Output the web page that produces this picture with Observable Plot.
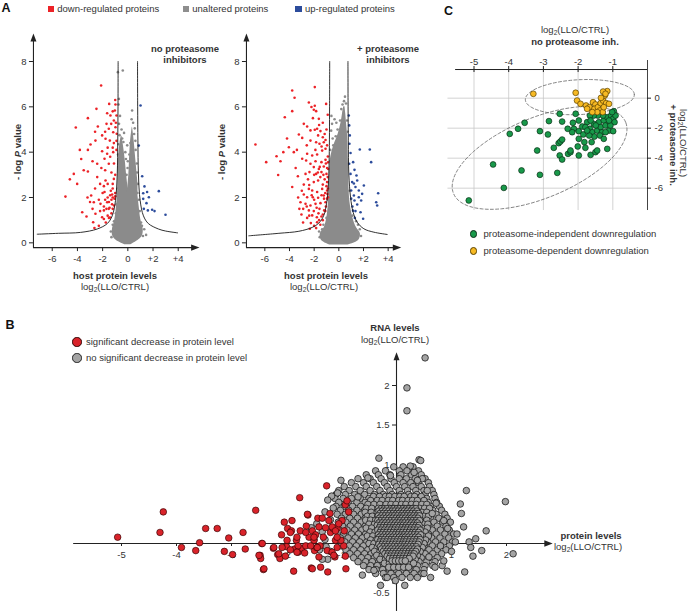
<!DOCTYPE html>
<html><head><meta charset="utf-8">
<script src="https://cdn.jsdelivr.net/npm/d3@7"></script>
<script src="https://cdn.jsdelivr.net/npm/@observablehq/plot@0.6"></script>
<style>
html,body{margin:0;padding:0;background:#fff;}
#fig{position:relative;width:696px;height:611px;overflow:hidden;font-family:"Liberation Sans",Arial,Helvetica,sans-serif;}
#fig svg{position:absolute;left:0;top:0;}
.lab{position:absolute;white-space:nowrap;line-height:1;}
.lab sub{font-size:0.7em;vertical-align:-0.3em;line-height:0;}
.sw{position:absolute;box-sizing:border-box;}
</style></head><body><div id="fig"></div>
<script>
// ================= DATA =================
// Panel A legend
const legendALabels = ["down-regulated proteins", "unaltered proteins", "up-regulated proteins"];
const volcanoXTicks = [-6, -4, -2, 0, 2, 4];
const volcanoYTicks = [0, 2, 4, 6, 8];

// Panel A, left: no proteasome inhibitors  [log2 ratio, -log P]
const noInhRed = [[-2.12,6.94],[-0.98,6.10],[-1.48,6.13],[-2.49,5.91],[-1.03,5.84],[-3.17,5.50],[-4.13,5.09],[-1.64,5.72],[-1.38,5.62],[-0.90,5.62],[-1.11,5.40],[-1.32,5.25],[-1.69,5.25],[-2.38,5.13],[-0.98,5.10],[-1.51,5.03],[-1.16,4.88],[-0.88,4.81],[-2.04,4.74],[-2.96,4.34],[-1.77,4.59],[-1.43,4.51],[-1.11,4.40],[-2.57,4.51],[-3.81,4.10],[-3.17,4.10],[-2.04,4.04],[-1.64,3.93],[-1.16,4.00],[-1.85,3.71],[-2.43,3.49],[-1.51,3.49],[-4.29,3.04],[-4.02,2.60],[-3.17,3.15],[-2.43,2.90],[-4.95,2.04],[-1.77,2.75],[-1.11,2.82],[-2.91,2.09],[-1.85,2.24],[-1.24,2.13],[-1.00,2.05],[-1.64,1.79],[-1.06,1.95],[-3.62,1.35],[-3.28,1.16],[-2.57,1.28],[-2.04,1.13],[-1.42,1.12],[-1.51,1.50],[-2.17,1.72],[-2.70,1.79],[-1.90,1.43],[-2.75,0.91],[-1.20,1.50],[-2.65,0.65],
[-1.3,1.9],[-1.2,2.0],[-1.4,2.1],[-1.0,2.2],[-1.5,1.8],[-1.25,1.7],[-1.1,1.65],[-1.35,2.3],[-1.6,2.0],[-1.45,1.55],[-1.2,2.4],[-1.8,1.9],[-1.9,1.6],[-2.0,2.2],[-1.7,1.5],[-1.3,1.3],[-1.6,1.2],[-1.5,1.1],[-1.9,1.05],[-2.2,1.4],[-2.3,1.9],[-2.2,2.6],[-1.9,2.5],[-1.6,2.6],[-1.2,2.6],[-1.0,3.0],[-1.3,3.1],[-1.8,3.2],[-2.1,3.3],[-1.1,3.5],[-1.4,3.8],[-0.9,4.1],[-1.2,4.2],[-0.9,4.5],[-1.6,4.2],[-1.8,4.9],[-1.2,5.8],[-0.95,5.3],[-1.0,6.3],[-2.6,4.9],[-2.6,2.4],[-3.2,2.0],[-3.7,3.7],[-3.5,3.2],[-2.8,3.6],[-4.6,2.8],[-3.0,1.8],[-2.8,1.5],[-2.3,0.75],[-1.75,0.9]];
const noInhBlue = [[1.01,6.06],[0.87,4.29],[1.14,2.94],[1.32,2.49],[1.53,2.24],[1.22,2.19],[2.46,2.28],[1.48,1.75],[1.27,1.50],[1.59,1.43],[1.93,1.46],[2.12,1.40],[2.99,1.24],[1.22,1.94],[1.67,2.01]];
const noInhGray = [[-0.79,7.53],[-0.40,7.60],[-0.71,6.35],[-0.74,6.10],[-0.62,5.60],[-0.70,5.25],[-0.50,5.00],[-0.30,4.85],[0.34,5.84],[0.30,5.45],[0.42,5.30],[-0.05,4.30],[0.00,3.60],[-0.10,3.00],[0.60,4.50],[0.70,3.50],[-0.78,3.90],[-1.30,0.25],[-1.35,0.50],[1.30,0.60],[1.20,0.30],[1.45,0.35],[-1.10,0.95],[0.95,1.40],[-0.90,1.70],[0.80,2.60],[1.05,0.90],[-1.20,0.80],[0.50,4.80],[-0.45,4.60],[0.20,4.40],[-0.20,4.00],[-0.66,4.75],[-0.74,4.35],[0.62,4.1],[0.72,3.1],[0.05,2.4],[-0.02,3.3],[-0.15,3.7],[0.12,3.9],[-0.35,4.45],[0.55,5.05],[-1.15,0.5],[1.12,0.75],[-0.95,1.3],[0.88,1.9],[0.76,2.2],[-0.82,2.4]];
const noInhGrayBand = [{y:-0.08,x1:-0.25,x2:0.25},{y:0.1,x1:-0.9,x2:0.8},{y:0.3,x1:-1.2,x2:1.15},{y:0.6,x1:-1.22,x2:1.22},{y:0.9,x1:-1.08,x2:1.08},{y:1.2,x1:-0.98,x2:0.98},{y:1.6,x1:-0.9,x2:0.9},{y:2.0,x1:-0.84,x2:0.82},{y:2.3,x1:-0.8,x2:0.78}];
const noInhGrayLobeL = [{y:2.2,x1:-0.8,x2:0.05},{y:2.6,x1:-0.8,x2:-0.02},{y:3.0,x1:-0.78,x2:-0.1},{y:3.5,x1:-0.76,x2:-0.18},{y:4.0,x1:-0.7,x2:-0.28},{y:4.4,x1:-0.62,x2:-0.38},{y:4.7,x1:-0.52,x2:-0.46}];
const noInhGrayLobeR = [{y:2.2,x1:-0.05,x2:0.8},{y:2.6,x1:0.02,x2:0.8},{y:3.0,x1:0.08,x2:0.74},{y:3.5,x1:0.12,x2:0.66},{y:4.0,x1:0.16,x2:0.58},{y:4.5,x1:0.22,x2:0.5},{y:4.9,x1:0.3,x2:0.42},{y:5.1,x1:0.35,x2:0.37}];
const noInhCurveL = [[-7.19,0.38],[-5.5,0.42],[-3.75,0.46],[-2.43,0.61],[-1.63,0.85],[-1.24,1.19],[-0.98,1.86],[-0.84,3.04],[-0.80,4.5],[-0.78,6.0],[-0.77,8.0]];
const noInhCurveR = [[0.77,8.0],[0.78,6.0],[0.80,4.5],[0.84,3.04],[0.98,1.86],[1.24,1.19],[1.63,0.85],[2.43,0.61],[3.0,0.52],[3.95,0.44]];

// Panel A, right: + proteasome inhibitors
const inhRed = [[-1.95,6.87],[-3.78,6.72],[-3.59,6.40],[-2.43,6.19],[-1.03,6.13],[-2.22,5.99],[-2.03,5.87],[-1.84,5.81],[-1.62,5.47],[-3.78,5.81],[-4.38,5.54],[-2.84,5.25],[-2.57,5.13],[-2.30,4.96],[-1.95,4.99],[-1.76,5.03],[-1.49,4.93],[-3.24,4.78],[-2.97,4.63],[-1.68,4.74],[-1.30,4.66],[-1.08,4.54],[-2.30,4.51],[-1.84,4.44],[-1.57,4.37],[-1.22,4.44],[-6.76,4.34],[-4.05,4.22],[-3.65,4.00],[-2.57,3.93],[-2.16,3.85],[-1.76,3.90],[-1.35,4.07],[-1.08,4.15],[-5.05,3.82],[-4.73,3.60],[-5.89,3.56],[-2.97,3.71],[-2.65,3.63],[-2.30,3.49],[-1.89,3.60],[-1.41,3.56],[-1.08,3.66],[-0.89,3.81],[-2.03,3.34],[-1.62,3.26],[-1.22,3.37],[-0.86,3.26],[-4.92,2.99],[-3.32,2.94],[-2.70,3.04],[-2.38,3.12],[-1.84,3.04],[-1.41,3.12],[-1.00,3.04],[-3.78,2.46],[-2.84,2.57],[-2.43,2.38],[-2.03,2.68],[-1.68,2.75],[-1.30,2.57],[-0.95,2.68],[-2.16,2.31],[-1.76,2.24],[-1.35,2.38],[-0.95,2.31],[-2.84,2.13],[-2.57,2.01],[-2.11,2.01],[-1.68,1.99],[-1.22,2.09],[-0.88,2.01],[-3.11,1.79],[-2.70,1.72],[-2.30,1.65],[-1.89,1.72],[-1.49,1.75],[-1.08,1.79],[-2.89,1.50],[-2.43,1.43],[-2.03,1.40],[-1.57,1.50],[-1.19,1.43],[-2.16,1.21],[-1.78,1.13],[-1.41,1.16],[-3.03,1.25],[-2.57,1.10],[-1.76,0.91],[-2.27,0.87],[-1.30,1.00],[-1.84,0.65],[-1.50,0.80],[-2.35,0.62],
[-0.9,2.9],[-1.0,2.5],[-1.1,2.2],[-0.88,2.4],[-1.15,2.8],[-0.95,3.3],[-1.25,3.0],[-0.95,1.95],[-1.05,1.6],[-1.1,1.4],[-1.3,1.25],[-0.92,2.15],[-1.05,3.5],[-0.88,3.55],[-1.2,1.95],[-1.4,2.1],[-1.5,2.9],[-1.55,3.35],[-1.7,3.1],[-2.0,3.0],[-2.5,2.8],[-2.2,2.1],[-2.0,1.9],[-1.8,1.55],[-2.6,1.6],[-2.4,2.55],[-3.0,2.3],[-1.9,4.1],[-1.4,4.25],[-2.6,4.3],[-1.15,4.8],[-1.0,5.0],[-0.95,4.3],[-1.3,5.3],[-1.6,5.2],[-2.1,5.5],[-1.95,6.05],[-0.9,5.65],[-3.4,4.1],[-3.5,3.3],[-4.2,4.6],[-4.5,4.0],[-3.3,2.0],[-1.65,1.3],[-2.4,1.2],[-2.9,0.9],[-3.2,1.5],[-2.0,0.75],[-1.6,1.0]];
const inhBlue = [[0.81,5.62],[0.84,5.18],[0.89,4.74],[1.70,4.12],[2.51,4.12],[2.62,3.56],[1.16,3.56],[1.27,3.22],[1.43,2.97],[0.95,3.04],[1.08,2.68],[1.35,2.46],[1.62,2.31],[1.00,2.31],[1.22,2.09],[1.62,2.01],[1.89,2.16],[3.19,2.19],[3.03,1.79],[3.11,1.65],[1.27,1.87],[1.49,1.69],[1.76,1.35],[1.97,1.06],[1.35,1.40],[1.10,1.60],[1.00,1.95],[0.84,3.49],[0.86,4.37],[0.95,3.96],[2.03,2.53],[1.22,2.62],[1.49,2.75],[1.81,1.87],[1.15,1.42],[1.30,1.10]];
const inhGray = [[0.50,6.45],[0.42,6.25],[0.58,6.15],[-0.62,4.95],[-0.55,5.25],[-0.50,4.60],[-0.25,4.70],[-0.10,5.00],[0.10,5.40],[-0.70,4.10],[-1.55,0.25],[-1.60,0.50],[1.80,0.30],[1.70,0.60],[-1.25,0.80],[1.40,0.95],[-0.35,5.45],[0.20,5.90],[-0.60,5.60],[0.00,4.60],[-0.72,3.6],[-0.45,4.3],[0.66,5.4],[0.72,4.9],[-1.35,0.6],[1.55,0.8],[-1.0,1.1],[1.1,1.2],[-0.86,1.9],[0.86,2.3],[-0.2,5.3],[0.3,6.1]];
const inhGrayBand = [{y:-0.1,x1:-0.7,x2:0.7},{y:0.1,x1:-1.4,x2:1.6},{y:0.4,x1:-1.5,x2:1.75},{y:0.65,x1:-1.2,x2:1.45},{y:0.9,x1:-1.05,x2:1.25},{y:1.3,x1:-0.92,x2:1.05},{y:1.8,x1:-0.84,x2:0.9},{y:2.5,x1:-0.8,x2:0.82},{y:3.2,x1:-0.76,x2:0.8},{y:3.8,x1:-0.65,x2:0.76},{y:4.3,x1:-0.4,x2:0.74},{y:4.8,x1:-0.05,x2:0.7},{y:5.3,x1:0.18,x2:0.62},{y:5.7,x1:0.3,x2:0.56},{y:6.0,x1:0.4,x2:0.5}];
const inhCurveL = [[-7.3,0.31],[-4.86,0.42],[-3.24,0.51],[-2.16,0.68],[-1.62,0.87],[-1.22,1.21],[-1.0,1.72],[-0.86,2.46],[-0.78,3.78],[-0.75,6.0],[-0.74,8.0]];
const inhCurveR = [[0.74,8.0],[0.75,6.0],[0.77,4.5],[0.81,3.04],[0.95,2.01],[1.16,1.35],[1.49,0.91],[2.03,0.62],[2.84,0.47],[3.92,0.37]];

// Panel B: [protein log2 ratio, RNA log2 ratio]
const bXTicks = [-5, -4, -3, -2, -1, 1, 2];
const bYTicks = [-0.5, 0.5, 1, 1.5, 2];
const bLegendLabels = ["significant decrease in protein level", "no significant decrease in protein level"];
const bRed = [[-5.07,0.08],[-4.30,0.14],[-4.24,0.40],[-3.91,-0.05],[-3.65,-0.09],[-3.58,0.01],[-3.47,0.19],[-3.26,0.19],[-3.13,-0.10],[-3.05,0.07],[-2.98,-0.14],[-2.79,0.14],[-2.75,-0.07],[-2.56,0.42],[-2.48,-0.15],[-2.47,-0.19],[-2.45,0.00],[-2.42,-0.33],[-2.24,-0.06],[-2.16,-0.14],[-2.12,-0.19],[-2.09,0.11],[-2.04,0.27],[-2.02,-0.16],[-2.00,-0.04],[-1.98,0.19],[-1.91,0.16],[-1.87,-0.35],[-1.85,-0.07],[-1.82,0.04],[-1.79,-0.11],[-1.76,0.58],[-1.75,0.16],[-1.72,-0.06],[-1.67,-0.12],[-1.64,0.22],[-1.61,0.36],[-1.59,0.08],[-1.55,-0.31],[-1.53,0.16],[-1.50,0.04],[-1.49,-0.09],[-1.47,0.11],[-1.43,0.32],[-1.41,-0.17],[-1.39,-0.03],[-1.38,-0.30],[-1.35,0.32],[-1.33,0.08],[-1.29,0.20],[-1.27,0.73],[-1.26,-0.09],[-1.25,-0.36],[-1.23,0.29],[-1.21,0.38],[-1.20,0.14],[-1.17,-0.11],[-1.15,0.19],[-1.12,-0.17],[-1.11,0.04],[-1.08,0.19],[-0.99,0.29],[-0.96,-0.03],[-0.93,0.49],[-0.92,-0.32],[-0.93,-0.16],[-1.45,-0.05],[-1.65,-0.03],[-1.93,-0.08],[-1.79,-0.03],[-1.62,0.37],[-0.90,0.54],[-0.87,0.40],[-0.95,0.16],[-1.01,0.04],[-1.08,-0.05],[-1.14,-0.15],[-1.17,0.21],[-1.08,0.08],[-1.44,-0.05],[-1.56,-0.03],[-1.50,0.08],[-1.65,0.14],[-1.81,0.08],[-1.93,0.14],[-1.99,0.04],[-2.08,-0.05],[-2.14,-0.13],[-1.53,-0.32],[-1.81,-0.11],[-2.23,-0.05],[-2.44,0.00],[-2.50,-0.15],[-2.41,-0.32],[-1.90,0.29],[-1.41,0.21],[-1.11,0.16],[-1.05,0.25]];
// grey cloud, read row by row: [RNA value, [protein values...]]
const bGrayRows = [
[0.97,[-0.05,0.12,0.3]],
[0.92,[-0.38,-0.2,0.05,0.22,0.4]],
[0.87,[-0.55,-0.33,-0.12,0.08,0.27,0.45]],
[0.82,[-0.7,-0.48,-0.28,-0.1,0.05,0.18,0.34,0.52]],
[0.77,[-0.82,-0.6,-0.42,-0.22,-0.04,0.12,0.26,0.4,0.58]],
[0.72,[-0.95,-0.74,-0.55,-0.36,-0.17,0.0,0.15,0.3,0.45,0.6]],
[0.67,[-1.05,-0.86,-0.66,-0.48,-0.3,-0.12,0.05,0.2,0.35,0.5,0.65]],
[0.62,[-1.1,-0.93,-0.76,-0.58,-0.4,-0.24,-0.08,0.08,0.22,0.37,0.52,0.68]],
[0.57,[-1.12,-0.97,-0.82,-0.66,-0.5,-0.34,-0.19,-0.04,0.1,0.25,0.4,0.55,0.7]],
[0.52,[-1.05,-0.88,-0.72,-0.57,-0.42,-0.27,-0.12,0.02,0.16,0.3,0.44,0.58,0.73]],
[0.47,[-1.1,-0.95,-0.8,-0.65,-0.5,-0.36,-0.22,-0.08,0.06,0.19,0.33,0.47,0.62,0.78]],
[0.42,[-1.02,-0.87,-0.72,-0.58,-0.44,-0.3,-0.16,-0.02,0.11,0.24,0.38,0.52,0.66,0.82]],
[0.37,[-1.08,-0.93,-0.78,-0.64,-0.5,-0.37,-0.23,-0.1,0.03,0.16,0.29,0.43,0.57,0.72,0.88]],
[0.32,[-1.0,-0.85,-0.71,-0.57,-0.43,-0.3,-0.17,-0.04,0.09,0.21,0.34,0.48,0.62,0.77,0.92]],
[0.27,[-1.06,-0.92,-0.78,-0.64,-0.5,-0.37,-0.24,-0.11,0.02,0.14,0.27,0.4,0.54,0.68,0.84,0.98]],
[0.22,[-0.98,-0.84,-0.7,-0.57,-0.44,-0.31,-0.18,-0.06,0.07,0.19,0.32,0.45,0.59,0.74,0.9]],
[0.17,[-1.04,-0.9,-0.76,-0.63,-0.5,-0.37,-0.24,-0.12,0.0,0.12,0.25,0.38,0.51,0.65,0.8,0.96]],
[0.12,[-0.96,-0.82,-0.69,-0.56,-0.43,-0.31,-0.18,-0.06,0.06,0.18,0.31,0.44,0.58,0.72,0.88,1.04]],
[0.07,[-1.02,-0.88,-0.75,-0.62,-0.49,-0.36,-0.24,-0.12,0.0,0.12,0.24,0.37,0.5,0.64,0.79,0.95]],
[0.02,[-0.94,-0.8,-0.67,-0.54,-0.42,-0.3,-0.18,-0.06,0.06,0.18,0.3,0.43,0.57,0.71,0.86,1.02]],
[-0.03,[-1.0,-0.86,-0.73,-0.6,-0.47,-0.35,-0.23,-0.11,0.01,0.13,0.25,0.38,0.51,0.65,0.8,0.96]],
[-0.08,[-0.92,-0.78,-0.65,-0.52,-0.4,-0.28,-0.16,-0.04,0.08,0.2,0.32,0.45,0.59,0.74,0.9]],
[-0.13,[-0.85,-0.71,-0.58,-0.46,-0.34,-0.22,-0.1,0.02,0.14,0.26,0.39,0.52,0.66,0.82]],
[-0.18,[-0.78,-0.64,-0.52,-0.4,-0.28,-0.16,-0.04,0.08,0.2,0.32,0.45,0.59,0.74]],
[-0.23,[-0.7,-0.56,-0.44,-0.32,-0.2,-0.08,0.04,0.16,0.28,0.41,0.55,0.7]],
[-0.28,[-0.6,-0.47,-0.35,-0.23,-0.11,0.01,0.13,0.25,0.38,0.52,0.66]],
[-0.33,[-0.5,-0.37,-0.25,-0.13,-0.01,0.11,0.23,0.36,0.5]],
[-0.38,[-0.38,-0.24,-0.1,0.04,0.18,0.32,0.46]],
[-0.43,[-0.2,-0.05,0.1,0.25]]];
// denser middle of the grey cloud
const bGrayCore = [
[0.595,[-0.42,-0.31,-0.2,-0.13,-0.03,0.06,0.14,0.26,0.33,0.45]],
[0.545,[-0.47,-0.35,-0.26,-0.15,-0.07,0.04,0.11,0.21,0.29,0.38,0.5]],
[0.495,[-0.52,-0.41,-0.3,-0.19,-0.1,-0.01,0.09,0.17,0.27,0.36,0.46,0.55]],
[0.445,[-0.55,-0.45,-0.33,-0.25,-0.13,-0.05,0.04,0.13,0.23,0.31,0.42,0.51,0.6]],
[0.395,[-0.57,-0.46,-0.35,-0.27,-0.17,-0.07,0.01,0.1,0.19,0.28,0.37,0.46,0.55]],
[0.345,[-0.53,-0.44,-0.34,-0.23,-0.14,-0.05,0.05,0.13,0.22,0.31,0.4,0.5,0.58]],
[0.295,[-0.56,-0.47,-0.38,-0.29,-0.2,-0.09,0.0,0.08,0.17,0.26,0.35,0.44,0.55]],
[0.245,[-0.5,-0.4,-0.31,-0.22,-0.13,-0.03,0.05,0.12,0.22,0.3,0.39,0.49,0.57]],
[0.195,[-0.55,-0.45,-0.34,-0.27,-0.18,-0.07,0.02,0.09,0.18,0.27,0.36,0.46,0.56]],
[0.145,[-0.48,-0.39,-0.29,-0.21,-0.11,-0.02,0.07,0.15,0.24,0.33,0.42,0.52]],
[0.095,[-0.53,-0.43,-0.33,-0.25,-0.15,-0.06,0.03,0.11,0.2,0.29,0.38,0.48,0.58]],
[0.045,[-0.47,-0.37,-0.28,-0.19,-0.09,0.0,0.08,0.17,0.26,0.35,0.45,0.53]],
[0.0,[-0.5,-0.41,-0.32,-0.22,-0.13,-0.04,0.05,0.14,0.22,0.31,0.41,0.5]],
[-0.05,[-0.44,-0.35,-0.26,-0.17,-0.08,0.02,0.1,0.19,0.28,0.37,0.47]],
[-0.10,[-0.4,-0.3,-0.21,-0.12,-0.03,0.06,0.15,0.24,0.33,0.43]],
[-0.15,[-0.36,-0.26,-0.17,-0.08,0.01,0.1,0.19,0.28,0.38]],
[-0.20,[-0.3,-0.2,-0.11,-0.02,0.07,0.16,0.25,0.34]],
[-0.25,[-0.22,-0.13,-0.04,0.05,0.14,0.23,0.31]],
[-0.30,[-0.14,-0.05,0.04,0.13,0.22]]];
// darkest centre of the grey cloud
const bGrayDense = [
[0.44,[-0.28,-0.22,-0.17,-0.1,-0.05,0.01,0.06,0.12,0.18,0.23,0.29,0.35]],
[0.41,[-0.32,-0.26,-0.2,-0.14,-0.08,-0.03,0.03,0.09,0.14,0.2,0.26,0.31,0.37]],
[0.38,[-0.3,-0.24,-0.18,-0.12,-0.06,0.0,0.05,0.11,0.17,0.22,0.28,0.34,0.4]],
[0.35,[-0.33,-0.27,-0.21,-0.15,-0.09,-0.04,0.02,0.08,0.13,0.19,0.25,0.31,0.37,0.42]],
[0.32,[-0.31,-0.25,-0.19,-0.13,-0.07,-0.01,0.05,0.1,0.16,0.22,0.27,0.33,0.39]],
[0.29,[-0.34,-0.28,-0.22,-0.16,-0.1,-0.04,0.02,0.07,0.13,0.19,0.25,0.3,0.36,0.42]],
[0.26,[-0.32,-0.26,-0.2,-0.14,-0.08,-0.02,0.04,0.1,0.15,0.21,0.27,0.33,0.38]],
[0.23,[-0.35,-0.29,-0.23,-0.17,-0.11,-0.05,0.01,0.07,0.12,0.18,0.24,0.3,0.36,0.41]],
[0.20,[-0.31,-0.25,-0.19,-0.13,-0.07,-0.02,0.04,0.1,0.16,0.21,0.27,0.33,0.39]],
[0.17,[-0.34,-0.28,-0.22,-0.16,-0.1,-0.04,0.02,0.08,0.13,0.19,0.25,0.31,0.37,0.43]],
[0.14,[-0.3,-0.24,-0.18,-0.12,-0.06,0.0,0.05,0.11,0.17,0.23,0.29,0.34,0.4]],
[0.11,[-0.33,-0.27,-0.21,-0.15,-0.09,-0.03,0.03,0.09,0.14,0.2,0.26,0.32,0.38,0.44]],
[0.08,[-0.31,-0.25,-0.19,-0.13,-0.07,-0.01,0.05,0.11,0.16,0.22,0.28,0.34,0.4]],
[0.05,[-0.34,-0.28,-0.22,-0.16,-0.1,-0.04,0.02,0.08,0.14,0.19,0.25,0.31,0.37,0.43]],
[0.02,[-0.3,-0.24,-0.18,-0.12,-0.06,0.0,0.06,0.12,0.17,0.23,0.29,0.35,0.41]],
[-0.01,[-0.32,-0.26,-0.2,-0.14,-0.08,-0.02,0.04,0.1,0.15,0.21,0.27,0.33,0.39]],
[-0.04,[-0.29,-0.23,-0.17,-0.11,-0.05,0.01,0.07,0.13,0.18,0.24,0.3,0.36]],
[-0.07,[-0.27,-0.21,-0.15,-0.09,-0.03,0.03,0.09,0.15,0.2,0.26,0.32,0.38]],
[-0.10,[-0.24,-0.18,-0.12,-0.06,0.0,0.06,0.12,0.17,0.23,0.29,0.35]],
[-0.13,[-0.21,-0.15,-0.09,-0.03,0.03,0.09,0.15,0.21,0.27,0.32]],
[-0.16,[-0.17,-0.11,-0.05,0.01,0.07,0.13,0.19,0.25,0.3]],
[-0.19,[-0.13,-0.07,-0.01,0.05,0.11,0.17,0.23]],
[-0.22,[-0.08,-0.02,0.04,0.1,0.16]]];
const bGrayOut = [[0.52,2.35],[0.19,1.97],[0.19,1.68],[-0.32,1.08],[0.41,1.06],[0.44,1.05],[0.25,0.98],[0.19,0.92],[0.32,0.90],[-0.11,0.86],[-0.52,0.83],[0.47,0.82],[1.27,0.67],[1.16,0.50],[1.98,0.53],[1.18,0.38],[1.22,0.21],[1.63,0.16],[1.44,0.06],[1.32,0.02],[1.07,0.02],[1.35,-0.05],[1.55,-0.09],[1.39,-0.16],[1.24,-0.36],[0.92,-0.35],[0.83,-0.28],[2.12,-0.13],[-0.29,-0.53],[0.15,-0.53],[0.72,0.51],[0.65,0.38],[0.86,0.29],[0.93,0.19],[0.56,0.67],[0.38,0.80],[0.80,-0.03],[0.59,-0.17],[0.50,-0.38],[0.62,-0.43],[0.38,-0.43],[-0.17,-0.43],[-0.41,-0.34],[0.86,-0.22],[-1.01,0.80],[-1.07,0.64],[-0.70,0.59],[-1.20,-0.10],[-1.25,-0.20],[-1.15,0.45],[-1.18,0.60],[-1.30,0.05],[1.10,0.12],[1.00,-0.10],[-0.62,-0.40],[-0.02,-0.47],[0.70,-0.30],[-1.5,0.05],[-1.45,0.25],[-1.35,0.15],[-1.4,-0.08],[-1.3,0.4],[-1.55,0.2],[-1.25,0.55],[-1.35,-0.2],[-1.2,0.3],[-1.28,-0.04]];

// Panel C: [no inhibitor log2 ratio, + inhibitor log2 ratio]
const cXTicks = [-5, -4, -3, -2, -1];
const cYTicks = [0, -2, -4, -6];
const cLegendLabels = ["proteasome-independent downregulation", "proteasome-dependent downregulation"];
const cIndependent = [[-5.15,-6.82],[-4.14,-5.98],[-4.45,-4.42],[-3.63,-4.82],[-3.10,-5.11],[-2.60,-4.98],[-3.18,-3.49],[-3.97,-2.38],[-3.73,-2.04],[-3.54,-1.64],[-2.84,-1.53],[-3.10,-2.20],[-2.87,-2.42],[-2.53,-1.04],[-2.70,-3.31],[-2.56,-3.00],[-2.51,-2.89],[-2.46,-2.76],[-2.53,-3.82],[-2.46,-4.09],[-2.29,-3.71],[-2.22,-3.60],[-2.46,-1.56],[-2.30,-2.04],[-2.15,-1.64],[-2.12,-2.04],[-2.07,-1.04],[-1.98,-1.49],[-1.98,-2.20],[-1.98,-2.71],[-2.01,-3.22],[-1.98,-3.82],[-1.88,-1.89],[-1.85,-2.42],[-1.82,-2.93],[-1.79,-3.31],[-1.74,-1.60],[-1.66,-2.04],[-1.64,-3.78],[-1.59,-2.27],[-1.61,-2.93],[-1.50,-3.60],[-1.55,-1.71],[-1.53,-2.56],[-1.45,-2.16],[-1.40,-1.60],[-1.45,-3.49],[-1.35,-1.93],[-1.31,-2.27],[-1.26,-1.49],[-1.21,-1.82],[-1.16,-1.27],[-1.11,-2.16],[-1.16,-3.38],[-1.09,-1.60],[-1.05,-1.16],[-0.99,-1.38],[-0.97,-0.87],[-0.95,-1.60],[-0.99,-2.20],[-1.07,-1.82],[-1.21,-2.27],[-1.28,-1.16],[-1.43,-1.16],[-1.55,-1.16],[-1.66,-1.16],[-1.64,-1.49],[-1.49,-1.82],[-1.68,-2.49],[-1.79,-1.93],[-1.74,-2.16],[-1.37,-2.49],[-1.26,-2.71],[-1.11,-1.49],[-0.92,-1.16],[-1.02,-0.93],[-2.17,-2.27],[-2.22,-3.49]];
const cDependent = [[-3.29,0.29],[-2.07,0.36],[-2.03,-0.16],[-1.93,-0.38],[-1.77,-0.49],[-1.67,-0.60],[-1.57,-0.27],[-1.50,-0.42],[-1.53,-0.71],[-1.43,-0.60],[-1.35,-0.33],[-1.28,-0.16],[-1.23,0.18],[-1.16,0.47],[-1.28,0.44],[-1.21,0.29],[-1.37,-0.82],[-1.29,-0.93],[-1.45,-0.93],[-1.19,-0.33],[-1.11,-0.38],[-1.59,-0.93],[-1.74,-0.71],[-1.34,0.02],[-1.26,-0.60]];
// dashed ellipses: centre and two conjugate semi-axes (data units)
const cEllipses = [
  {group:"dependent", cx:-1.95, cy:0.07, ux:1.57, uy:0.18, vx:-0.024, vy:1.16},
  {group:"independent", cx:-3.11, cy:-3.98, ux:2.48, uy:2.38, vx:-0.44, vy:2.47}];

// ================= DRAWING =================
const W = 696, H = 611;
const fig = document.getElementById("fig");
const PSTYLE = {background: "transparent", overflow: "visible", fontFamily: "'Liberation Sans', Arial, Helvetica, sans-serif"};
const TXT = "#333", AX = "#222";
const COL = {red: "#ec2227", gray: "#8b8b8b", blue: "#2c4c9c",
  bRed: "#d9232a", bGray: "#a4a4a4", green: "#18994a", yellow: "#f6b923"};
const FS = 9.5;

const ARROW_UP = {draw(ctx, size) { const r = Math.sqrt(size / Math.PI);
  ctx.moveTo(0, 0); ctx.lineTo(0.75 * r, 2 * r); ctx.lineTo(-0.75 * r, 2 * r); ctx.closePath(); }};
const ARROW_RIGHT = {draw(ctx, size) { const r = Math.sqrt(size / Math.PI);
  ctx.moveTo(0, 0); ctx.lineTo(-2 * r, -0.75 * r); ctx.lineTo(-2 * r, 0.75 * r); ctx.closePath(); }};

const XY = {x: d => d[0], y: d => d[1]};
const plusFmt = d => d > 0 ? "+" + d : String(d);

function add(svg) { fig.appendChild(svg); }

// ---- Panel A volcano plots
const VY = {domain: [0, 8], range: [242.33, 61]};
const VY_AXIS = [-0.21, 9.23];
function volcano(p) {
  const kx = (p.xRange[1] - p.xRange[0]) / (p.xDomain[1] - p.xDomain[0]);
  const ky = (VY.range[0] - VY.range[1]) / (VY.domain[1] - VY.domain[0]);
  const [x0, xTip] = p.xAxis, [y0, yTip] = VY_AXIS;
  return Plot.plot({
    width: W, height: H, margin: 0, style: PSTYLE,
    x: {domain: p.xDomain, range: p.xRange, axis: null},
    y: {domain: VY.domain, range: VY.range, axis: null},
    marks: [
      ...p.bands.map(b => Plot.areaX(b, {y: "y", x1: "x1", x2: "x2", fill: COL.gray, curve: "catmull-rom"})),
      Plot.dot(p.gray, {...XY, r: 1.3, fill: COL.gray}),
      Plot.dot(p.red, {...XY, r: 1.3, fill: COL.red}),
      Plot.dot(p.blue, {...XY, r: 1.3, fill: COL.blue}),
      ...p.curves.map(c => Plot.line(c, {...XY, stroke: "#1a1a1a", strokeWidth: 0.9, curve: "catmull-rom"})),
      Plot.ruleX([x0], {y1: y0, y2: yTip - 0.2, stroke: AX, strokeWidth: 1.1}),
      Plot.ruleY([y0], {x1: x0, x2: xTip - 0.3, stroke: AX, strokeWidth: 1.1}),
      Plot.dot([x0], {x: d => d, y: () => yTip, symbol: ARROW_UP, r: 4, fill: AX, stroke: "none"}),
      Plot.dot([xTip], {x: d => d, y: () => y0, symbol: ARROW_RIGHT, r: 4.2, fill: AX, stroke: "none"}),
      Plot.ruleY(volcanoYTicks, {y: d => d, x1: x0, x2: x0 - 4 / kx, stroke: AX}),
      Plot.text(volcanoYTicks, {x: () => x0, y: d => d, text: d => String(d), dx: -7, textAnchor: "end", fontSize: FS, fill: TXT}),
      Plot.ruleX(volcanoXTicks, {x: d => d, y1: y0, y2: y0 - 4 / ky, stroke: AX}),
      Plot.text(volcanoXTicks, {x: d => d, y: () => y0, text: plusFmt, dy: 11, fontSize: FS, fill: TXT})
    ]
  });
}
add(volcano({xDomain: [-6, 0], xRange: [51.73, 127.33], xAxis: [-7.49, 5.69],
  bands: [noInhGrayBand, noInhGrayLobeL, noInhGrayLobeR], gray: noInhGray, red: noInhRed, blue: noInhBlue,
  curves: [noInhCurveL, noInhCurveR]}));
add(volcano({xDomain: [-6, 0], xRange: [264.33, 338.33], xAxis: [-7.49, 5.06],
  bands: [inhGrayBand], gray: inhGray, red: inhRed, blue: inhBlue,
  curves: [inhCurveL, inhCurveR]}));

// ---- Panel B
(function () {
  const kx = 55, ky = 79;
  const xAx = [-5.87, 2.84], yAx = [-0.86, 2.42];
  const rows = r => r.flatMap(([y, xs]) => xs.map(x => [x, y]));
  const gray = rows(bGrayRows).concat(rows(bGrayCore), rows(bGrayDense), bGrayOut);
  const under = bYTicks.filter(d => d > 0), over = bYTicks.filter(d => d < 0);
  add(Plot.plot({
    width: W, height: H, margin: 0, style: PSTYLE,
    x: {domain: [-5, 0], range: [121, 396], axis: null},
    y: {domain: [0, 1], range: [543, 464], axis: null},
    marks: [
      Plot.ruleY([0], {x1: xAx[0], x2: xAx[1] - 0.1, stroke: AX, strokeWidth: 1.1}),
      Plot.ruleX([0], {y1: yAx[0], y2: yAx[1] - 0.05, stroke: AX, strokeWidth: 1.1}),
      Plot.dot([0], {x: () => 0, y: () => yAx[1], symbol: ARROW_UP, r: 4, fill: AX, stroke: "none"}),
      Plot.dot([0], {x: () => xAx[1], y: () => 0, symbol: ARROW_RIGHT, r: 4.2, fill: AX, stroke: "none"}),
      Plot.ruleX(bXTicks, {x: d => d, y1: 0, y2: -3 / ky, stroke: AX}),
      Plot.text(bXTicks, {x: d => d, y: () => 0, text: d => String(d), dy: 11, fontSize: FS, fill: TXT}),
      Plot.ruleY(bYTicks, {y: d => d, x1: 0, x2: -4 / kx, stroke: AX}),
      Plot.text(under, {x: () => 0, y: d => d, text: d => String(d), dx: -7, textAnchor: "end", fontSize: FS, fill: TXT}),
      Plot.dot(gray, {...XY, r: 3.3, fill: COL.bGray, stroke: "#111", strokeWidth: 0.75}),
      Plot.dot(bRed, {...XY, r: 3.3, fill: COL.bRed, stroke: "#300000", strokeWidth: 0.65}),
      Plot.text(over, {x: () => 0, y: d => d, text: d => String(d), dx: -7, dy: 10, textAnchor: "end", fontSize: FS, fill: TXT})
    ]
  }));
})();

// ---- Panel C
(function () {
  const xd = [-5, 0], xr = [473.5, 647], yd = [-6, 0], yr = [187.67, 97.67];
  const kx = 34.7, ky = 15;
  const axisY = 1.91, gridLeft = -5.75, axisLeft = -5.53, vTop = 2.51, vBottom = -7.49;
  const ellipsePts = e => d3.range(0, 121).map(i => { const t = i / 120 * 2 * Math.PI;
    return [e.cx + e.ux * Math.cos(t) + e.vx * Math.sin(t), e.cy + e.uy * Math.cos(t) + e.vy * Math.sin(t)]; });
  add(Plot.plot({
    width: W, height: H, margin: 0, style: PSTYLE,
    x: {domain: xd, range: xr, axis: null},
    y: {domain: yd, range: yr, axis: null},
    marks: [
      Plot.ruleX(cXTicks, {x: d => d, y1: axisY, y2: vBottom, stroke: "#c8c8c8", strokeWidth: 0.8}),
      Plot.ruleY(cYTicks, {y: d => d, x1: gridLeft, x2: 0, stroke: "#c8c8c8", strokeWidth: 0.8}),
      Plot.ruleY([axisY], {x1: axisLeft, x2: 0.03, stroke: AX, strokeWidth: 1}),
      Plot.ruleX([0], {y1: vTop, y2: vBottom, stroke: "#444", strokeWidth: 1}),
      Plot.ruleX(cXTicks, {x: d => d, y1: axisY + 3 / ky, y2: axisY - 3 / ky, stroke: AX}),
      Plot.text(cXTicks, {x: d => d, y: () => axisY, text: d => String(d), dy: -8, fontSize: FS, fill: TXT}),
      Plot.ruleY(cYTicks, {y: d => d, x1: 0, x2: 4 / kx, stroke: AX}),
      Plot.text(cYTicks, {x: () => 0, y: d => d, text: d => String(d), dx: 7, textAnchor: "start", fontSize: FS, fill: TXT}),
      ...cEllipses.map(e => Plot.line(ellipsePts(e), {...XY, stroke: "#666", strokeWidth: 0.8, strokeDasharray: "3,2.2"})),
      Plot.dot(cIndependent, {...XY, r: 2.9, fill: COL.green, stroke: "#0c2f17", strokeWidth: 0.7}),
      Plot.dot(cDependent, {...XY, r: 2.9, fill: COL.yellow, stroke: "#5a4200", strokeWidth: 0.7})
    ]
  }));
})();

// ---- HTML text: titles, legends, panel letters
function label(html, x, y, o = {}) {
  const d = document.createElement("div");
  d.className = "lab";
  d.innerHTML = html;
  const tx = o.anchor === "start" ? "0" : o.anchor === "end" ? "-100%" : "-50%";
  d.style.left = x + "px"; d.style.top = y + "px";
  d.style.fontSize = (o.size || FS) + "px";
  d.style.fontWeight = o.bold ? "700" : "400";
  d.style.color = o.color || TXT;
  d.style.transform = `translate(${tx},-50%)` + (o.rotate ? ` rotate(${o.rotate}deg)` : "");
  fig.appendChild(d);
}
function swatch(x, y, w, fill, round, stroke) {
  const s = document.createElement("div");
  s.className = "sw";
  s.style.cssText = `left:${x - w / 2}px;top:${y - w / 2}px;width:${w}px;height:${w}px;background:${fill};` +
    (round ? `border-radius:50%;border:0.7px solid ${stroke};` : "");
  fig.appendChild(s);
}
const LOG2 = "log<sub>2</sub>(LLO/CTRL)";
label("A", 6, 8, {size: 12.5, bold: true, color: "#111"});
label("B", 10, 325, {size: 12.5, bold: true, color: "#111"});
label("C", 448.5, 11, {size: 12.5, bold: true, color: "#111"});
[[51, COL.red], [186, "#8e8e8e"], [298.7, COL.blue]].forEach(([x, c], i) => {
  swatch(x, 9.2, 6.5, c);
  label(legendALabels[i], x + 6.3, 9.3, {anchor: "start"});
});
label("no proteasome", 185, 49, {bold: true});
label("inhibitors", 185, 60, {bold: true});
label("+ proteasome", 388, 49, {bold: true});
label("inhibitors", 388, 60, {bold: true});
label("host protein levels", 115, 276, {bold: true});
label(LOG2, 115, 287);
label("host protein levels", 326, 276, {bold: true});
label(LOG2, 324, 287);
label("- log <i>P</i> value", 18, 152, {bold: true, rotate: -90});
label("- log <i>P</i> value", 222, 152, {bold: true, rotate: -90});
swatch(77, 342, 9.4, COL.bRed, true, "#300000");
swatch(77, 358, 9.4, COL.bGray, true, "#222");
label(bLegendLabels[0], 86, 342, {anchor: "start"});
label(bLegendLabels[1], 86, 358, {anchor: "start"});
label("RNA levels", 395, 328, {bold: true});
label(LOG2, 395, 340);
label("protein levels", 591, 536, {bold: true});
label(LOG2, 588, 547);
label(LOG2, 575, 30);
label("no proteasome inh.", 575, 42, {bold: true});
label(LOG2, 683, 143, {rotate: 90});
label("+ proteasome inh.", 673, 145, {bold: true, rotate: 90});
swatch(473.3, 234, 7.6, COL.green, true, "#0c2f17");
swatch(473.3, 251, 7.6, COL.yellow, true, "#5a4200");
label(cLegendLabels[0], 483.5, 234, {anchor: "start"});
label(cLegendLabels[1], 483.5, 251, {anchor: "start"});
</script></body></html>
